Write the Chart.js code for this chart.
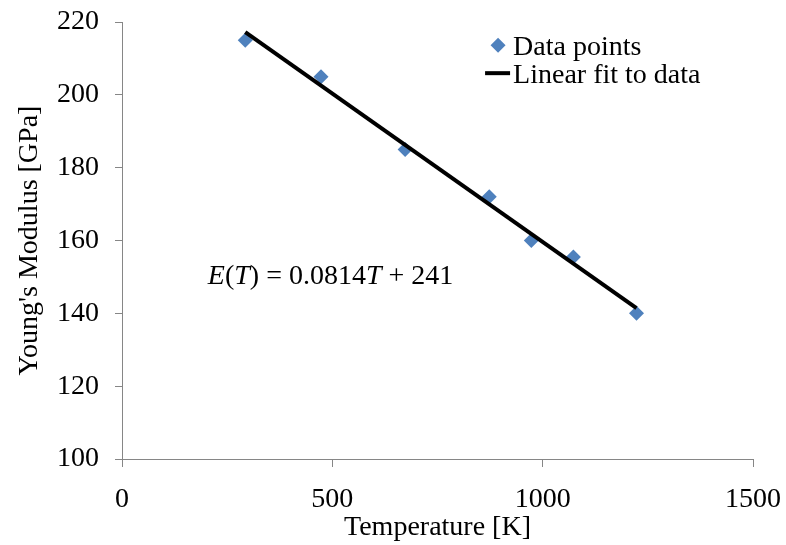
<!DOCTYPE html>
<html>
<head>
<meta charset="utf-8">
<script src="https://cdn.jsdelivr.net/npm/chart.js@4/dist/chart.umd.min.js"></script>
<style>
  body { margin: 0; background: #fff; }
  #wrap { width: 786px; height: 545px; }
</style>
</head>
<body>
<div id="wrap"><canvas id="results" width="786" height="545"></canvas></div>
<script>
'use strict';

// measured values (temperature in K, modulus in GPa)
var temperatures = [293, 473, 673, 873, 973, 1073, 1223];
var modulus = [215, 205, 185, 172, 160, 155.5, 140];

// ends of the fitted line
var fitTemps = [293, 1223];
var fitModulus = [217.2, 141.4];

var xTicks = [0, 500, 1000, 1500];
var yTicks = [100, 120, 140, 160, 180, 200, 220];

var legendLabels = ['Data points', 'Linear fit to data'];
var equationParts = [
  ['E', true], ['(', false], ['T', true], [') = 0.0814', false], ['T', true], [' + 241', false]
];

var FONT = '"Liberation Serif", "Times New Roman", serif';
var BLUE = '#4F81BD';
var AXIS = '#868686';

function toPoints(xs, ys) {
  return xs.map(function (x, i) { return { x: x, y: ys[i] }; });
}

// legend box and the equation, drawn inside the plot area
var notesPlugin = {
  id: 'notes',
  afterDraw: function (chart) {
    var ctx = chart.ctx;
    var area = chart.chartArea;
    var w = area.right - area.left;
    var h = area.bottom - area.top;

    ctx.save();
    ctx.textBaseline = 'middle';
    ctx.font = '28px ' + FONT;

    var lx = area.left + w * 0.596;
    var ly = area.top + h * 0.053;
    var rowH = 28;

    // diamond marker
    ctx.fillStyle = BLUE;
    ctx.beginPath();
    ctx.moveTo(lx, ly - 7.5);
    ctx.lineTo(lx + 7.5, ly);
    ctx.lineTo(lx, ly + 7.5);
    ctx.lineTo(lx - 7.5, ly);
    ctx.closePath();
    ctx.fill();

    // line marker
    ctx.strokeStyle = '#000';
    ctx.lineWidth = 4;
    ctx.beginPath();
    ctx.moveTo(lx - 13, ly + rowH);
    ctx.lineTo(lx + 12, ly + rowH);
    ctx.stroke();

    ctx.fillStyle = '#000';
    ctx.fillText(legendLabels[0], lx + 15, ly + 2);
    ctx.fillText(legendLabels[1], lx + 15, ly + rowH + 2);

    // equation
    var ex = chart.scales.x.getPixelForValue(204);
    var ey = chart.scales.y.getPixelForValue(150);
    equationParts.forEach(function (part) {
      ctx.font = (part[1] ? 'italic ' : '') + '28px ' + FONT;
      ctx.fillText(part[0], ex, ey);
      ex += ctx.measureText(part[0]).width;
    });
    ctx.restore();
  }
};

var ctx = document.getElementById('results').getContext('2d');

var chart = new Chart(ctx, {
  type: 'scatter',
  data: {
    datasets: [{
      label: legendLabels[0],
      data: toPoints(temperatures, modulus),
      pointStyle: 'rectRot',
      pointRadius: 7.5,
      pointBackgroundColor: BLUE,
      pointBorderWidth: 0,
      showLine: false,
      order: 2
    }, {
      label: legendLabels[1],
      data: toPoints(fitTemps, fitModulus),
      showLine: true,
      borderColor: '#000',
      borderWidth: 4,
      pointRadius: 0,
      fill: false,
      order: 1
    }]
  },
  options: {
    responsive: false,
    animation: false,
    layout: {
      padding: { top: 22, right: 33, left: 0, bottom: 0 }
    },
    plugins: {
      legend: { display: false },
      tooltip: { enabled: false }
    },
    scales: {
      x: {
        type: 'linear',
        min: 0,
        max: 1500,
        afterBuildTicks: function (scale) {
          scale.ticks = xTicks.map(function (v) { return { value: v }; });
        },
        afterFit: function (scale) {
          scale.height = 86;
          scale.paddingLeft = 0;
          scale.paddingRight = 0;
        },
        grid: { drawOnChartArea: false, drawTicks: true, tickLength: 8, color: AXIS },
        border: { color: AXIS, width: 1 },
        ticks: {
          color: '#000',
          padding: 16,
          font: { family: FONT, size: 28 },
          callback: function (value) { return String(value); }
        },
        title: {
          display: true,
          text: 'Temperature [K]',
          color: '#000',
          padding: 1,
          font: { family: FONT, size: 28 }
        }
      },
      y: {
        type: 'linear',
        min: 100,
        max: 220,
        afterBuildTicks: function (scale) {
          scale.ticks = yTicks.map(function (v) { return { value: v }; });
        },
        afterFit: function (scale) {
          scale.width = 122;
          scale.paddingTop = 0;
          scale.paddingBottom = 0;
        },
        grid: { drawOnChartArea: false, drawTicks: true, tickLength: 7, color: AXIS },
        border: { color: AXIS, width: 1 },
        ticks: {
          color: '#000',
          padding: 16,
          font: { family: FONT, size: 28 },
          callback: function (value) { return String(value); }
        },
        title: {
          display: true,
          text: "Young's Modulus [GPa]",
          color: '#000',
          padding: 13,
          font: { family: FONT, size: 28 }
        }
      }
    }
  },
  plugins: [notesPlugin]
});
</script>
</body>
</html>
